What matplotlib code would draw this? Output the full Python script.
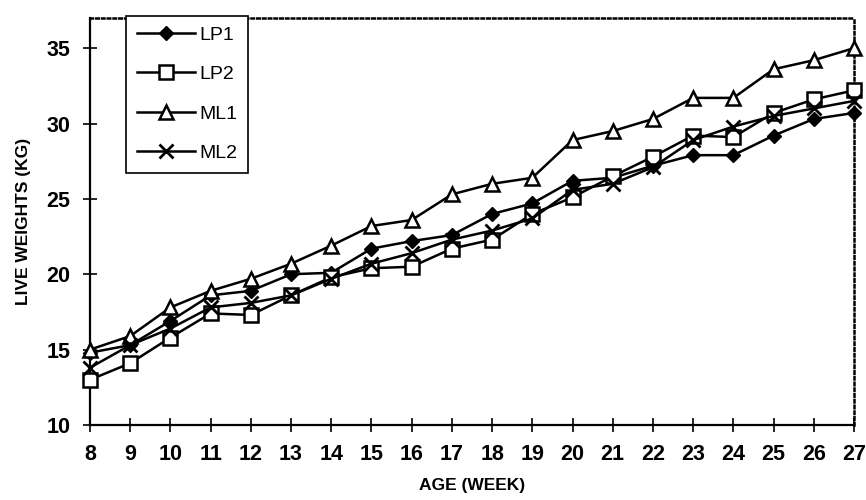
import matplotlib
matplotlib.use("Agg")
import matplotlib.pyplot as plt

weeks = list(range(8, 28))
lp1 = [14.8, 15.3, 16.9, 18.6, 18.9, 20.0, 20.1, 21.7, 22.2, 22.6, 24.0, 24.7,
       26.2, 26.4, 27.2, 27.9, 27.9, 29.2, 30.3, 30.7]
lp2 = [13.0, 14.1, 15.8, 17.4, 17.3, 18.6, 19.8, 20.4, 20.5, 21.7, 22.3, 24.0,
       25.1, 26.5, 27.8, 29.2, 29.1, 30.7, 31.6, 32.2]
ml1 = [15.0, 15.9, 17.8, 18.9, 19.7, 20.7, 21.9, 23.2, 23.6, 25.3, 26.0, 26.4,
       28.9, 29.5, 30.3, 31.7, 31.7, 33.6, 34.2, 35.0]
ml2 = [13.8, 15.3, 16.4, 17.8, 18.1, 18.6, 19.7, 20.7, 21.4, 22.3, 22.9, 23.7,
       25.6, 26.0, 27.1, 28.9, 29.8, 30.5, 31.0, 31.5]
series_names = ["LP1", "LP2", "ML1", "ML2"]
y_ticks = [10, 15, 20, 25, 30, 35]

plt.rcParams["font.family"] = ["Liberation Sans", "DejaVu Sans"]

fig = plt.figure(figsize=(8.66, 5.0), dpi=100)
ax = fig.add_axes([90 / 866, 1 - 425 / 500, (854 - 90) / 866, (425 - 18) / 500])

common = dict(color="black", lw=1.8, clip_on=False, zorder=3)
ax.plot(weeks, lp1, marker="D", ms=7.5, mfc="black", mec="black", label=series_names[0], **common)
ax.plot(weeks, lp2, marker="s", ms=9.5, mfc="white", mec="black", mew=1.8, label=series_names[1], **common)
ax.plot(weeks, ml1, marker="^", ms=10.5, mfc="white", mec="black", mew=1.8, label=series_names[2], **common)
ax.plot(weeks, ml2, marker="x", ms=10, mec="black", mew=2.0, label=series_names[3], **common)

ax.set_xlim(8, 27)
ax.set_ylim(10, 37)
ax.set_xticks(weeks)
ax.set_yticks(y_ticks)
ax.tick_params(direction="inout", length=10, width=1.2, labelsize=15.5)
ax.tick_params(axis="x", pad=9)
ax.tick_params(axis="y", pad=9)
for lbl in ax.get_xticklabels() + ax.get_yticklabels():
    lbl.set_fontweight("bold")

for side in ("left", "bottom"):
    ax.spines[side].set_linewidth(1.6)
for side in ("top", "right"):
    ax.spines[side].set_linestyle((0, (1, 1.3)))
    ax.spines[side].set_linewidth(1.8)

ax.set_xlabel("AGE (WEEK)", fontsize=12.5, fontweight="bold", labelpad=9)
ax.set_ylabel("LIVE WEIGHTS (KG)", fontsize=12.5, fontweight="bold", labelpad=11)

leg = ax.legend(loc="upper left", bbox_to_anchor=((126 - 90) / 764, 1.006),
                frameon=True, fancybox=False, framealpha=1, edgecolor="black",
                fontsize=14, handlelength=3.0, borderpad=0.55, labelspacing=1.12,
                handletextpad=0.2, borderaxespad=0.0)
leg.get_frame().set_linewidth(1.2)

fig.savefig("out.png", dpi=100)
